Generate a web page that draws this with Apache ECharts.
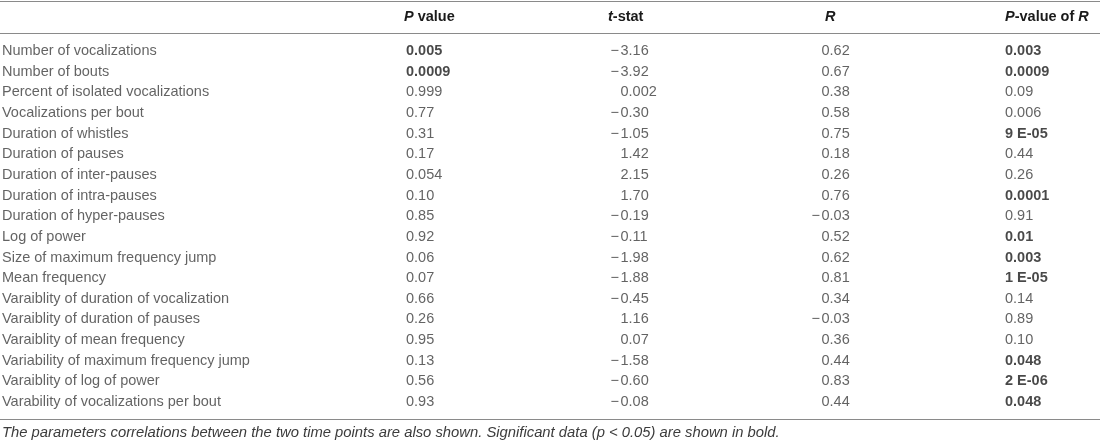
<!DOCTYPE html>
<html>
<head>
<meta charset="utf-8">
<script src="https://cdn.jsdelivr.net/npm/echarts@6/dist/echarts.min.js"></script>
<style>
html,body{margin:0;padding:0;background:#fff;}
#chart{width:1100px;height:443px;}
</style>
</head>
<body>
<div id="chart"></div>
<script>
// ---- data ----
var rowNames = [
  'Number of vocalizations','Number of bouts','Percent of isolated vocalizations','Vocalizations per bout',
  'Duration of whistles','Duration of pauses','Duration of inter-pauses','Duration of intra-pauses',
  'Duration of hyper-pauses','Log of power','Size of maximum frequency jump','Mean frequency',
  'Varaiblity of duration of vocalization','Varaiblity of duration of pauses','Varaiblity of mean frequency',
  'Variability of maximum frequency jump','Varaiblity of log of power','Varability of vocalizations per bout'
];
var pValues = ['0.005','0.0009','0.999','0.77','0.31','0.17','0.054','0.10','0.85','0.92','0.06','0.07','0.66','0.26','0.95','0.13','0.56','0.93'];
var pValueBold = [1,1,0,0,0,0,0,0,0,0,0,0,0,0,0,0,0,0];
var tStats = ['−3.16','−3.92','0.002','−0.30','−1.05','1.42','2.15','1.70','−0.19','−0.11','−1.98','−1.88','−0.45','1.16','0.07','−1.58','−0.60','−0.08'];
var rValues = ['0.62','0.67','0.38','0.58','0.75','0.18','0.26','0.76','−0.03','0.52','0.62','0.81','0.34','−0.03','0.36','0.44','0.83','0.44'];
var pOfR = ['0.003','0.0009','0.09','0.006','9 E-05','0.44','0.26','0.0001','0.91','0.01','0.003','1 E-05','0.14','0.89','0.10','0.048','2 E-06','0.048'];
var pOfRBold = [1,1,0,0,1,0,0,1,0,1,1,1,0,0,0,1,1,1];
var columnHeaders = ['{bi|P}{b| value}', '{bi|t}{b|-stat}', '{bi|R}', '{bi|P}{b|-value of }{bi|R}'];
var footnote = 'The parameters correlations between the two time points are also shown. Significant data (p < 0.05) are shown in bold.';

// ---- layout ----
var FONT = '"Liberation Sans", Arial, sans-serif';
var FS = 14.5;
var TEXT = '#3c3c3c';
var BOLD = '#1a1a1a';
var COL_X = [2, 406, 609, 810, 1005];   // left edges of columns
var HEADER_X = [404, 608, 825, 1005];
var SIGN_W = 11.5;                       // room kept for a minus sign
var ROW_FIRST = 51, ROW_STEP = 20.65;

var chart = echarts.init(document.getElementById('chart'), null, {renderer: 'canvas'});

function cellSeries(values, colIdx, boldFlags, signed) {
  return {
    type: 'scatter',
    symbolSize: 0,
    silent: true,
    animation: false,
    data: values.map(function (v, i) {
      return {
        value: [COL_X[colIdx], rowNames[i]],
        txt: v,
        bold: boldFlags ? !!boldFlags[i] : false
      };
    }),
    label: {
      show: true,
      position: [0, 0],
      align: 'left',
      verticalAlign: 'middle',
      fontFamily: FONT,
      fontSize: FS,
      formatter: function (p) {
        var t = p.data.txt;
        var style = p.data.bold ? 'b' : 'n';
        if (signed) {
          var neg = t.charAt(0) === '−';
          return '{s|' + (neg ? '−' : ' ') + '}{' + style + '|' + (neg ? t.slice(1) : t) + '}';
        }
        return '{' + style + '|' + t + '}';
      },
      rich: {
        n: {fontFamily: FONT, fontSize: FS, color: TEXT},
        b: {fontFamily: FONT, fontSize: FS, color: BOLD, fontWeight: 'bold'},
        s: {fontFamily: FONT, fontSize: FS, color: TEXT, width: SIGN_W, align: 'right'}
      }
    }
  };
}

var rowSeries = {
  type: 'scatter',
  symbolSize: 0,
  silent: true,
  animation: false,
  data: rowNames.map(function (n) { return [COL_X[0], n]; }),
  label: {
    show: true,
    position: [0, 0],
    align: 'left',
    verticalAlign: 'middle',
    fontFamily: FONT,
    fontSize: FS,
    color: TEXT,
    formatter: function (p) { return p.value[1]; }
  }
};

var headerRich = {
  bi: {fontFamily: FONT, fontSize: FS, fontWeight: 'bold', fontStyle: 'italic', color: BOLD},
  b: {fontFamily: FONT, fontSize: FS, fontWeight: 'bold', color: BOLD}
};

var HEADER_Y = 17;
var graphics = [];
[1.5, 33.5, 419.5].forEach(function (y) {
  graphics.push({type: 'line', silent: true, shape: {x1: 0, y1: y, x2: 1100, y2: y},
    style: {stroke: '#8a8a8a', lineWidth: 1.2}});
});
columnHeaders.forEach(function (h, i) {
  graphics.push({type: 'text', silent: true, x: HEADER_X[i], y: HEADER_Y,
    style: {text: h, rich: headerRich, align: 'left', verticalAlign: 'middle',
      font: 'bold ' + FS + 'px ' + FONT, fill: BOLD}});
});
graphics.push({type: 'text', silent: true, x: 2, y: 433,
  style: {text: footnote, align: 'left', verticalAlign: 'middle',
    font: 'italic 14.8px ' + FONT, fill: TEXT}});

var option = {
  backgroundColor: '#fff',
  animation: false,
  grid: {left: 0, width: 1100, top: ROW_FIRST - ROW_STEP / 2, height: ROW_STEP * rowNames.length},
  xAxis: {type: 'value', min: 0, max: 1100, show: false},
  yAxis: {type: 'category', data: rowNames, inverse: true, show: false},
  graphic: graphics,
  series: [
    rowSeries,
    cellSeries(pValues, 1, pValueBold, false),
    cellSeries(tStats, 2, null, true),
    cellSeries(rValues, 3, null, true),
    cellSeries(pOfR, 4, pOfRBold, false)
  ]
};
chart.setOption(option);
</script>
</body>
</html>
